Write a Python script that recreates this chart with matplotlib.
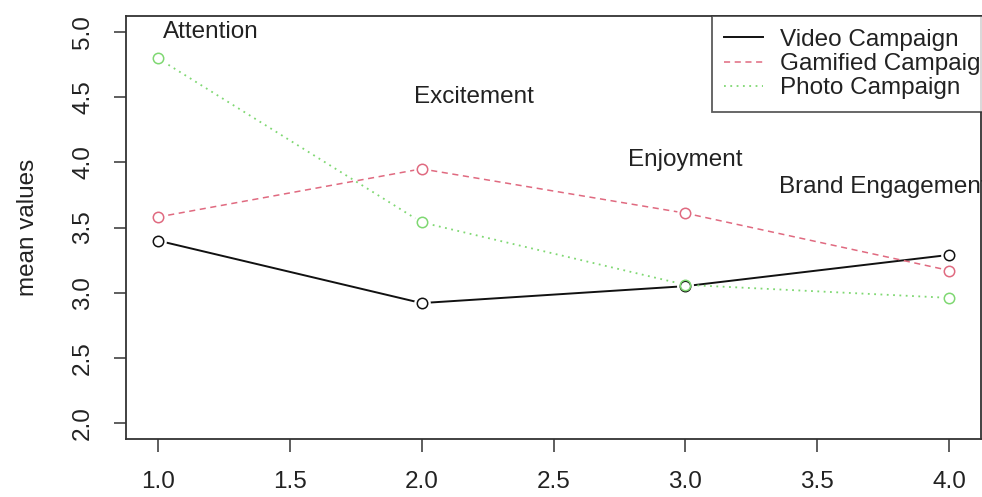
import matplotlib
matplotlib.use("Agg")
from matplotlib import pyplot as plt

# datos
dimensiones = [1, 2, 3, 4]
video = [3.40, 2.92, 3.05, 3.29]
gamificada = [3.58, 3.95, 3.61, 3.17]
foto = [4.80, 3.54, 3.06, 2.96]

etiquetas = ["Attention", "Excitement", "Enjoyment", "Brand Engagement"]
etiquetas_x = [1.2, 2.2, 3.0, 3.75]
etiquetas_y = [5.0, 4.5, 4.02, 3.81]

nombres = ["Video Campaign", "Gamified Campaign", "Photo Campaign"]

plt.rcParams['font.family'] = ['Liberation Sans', 'DejaVu Sans']
FS = 17.5

fig = plt.figure(figsize=(9.82, 4.97), dpi=100)
ax = fig.add_axes([0.1283, 0.1175, 0.8707, 0.8495])

series = [video, gamificada, foto]
colores = ["#111111", "#E06A80", "#7FD872"]
estilos = ["-", (0, (4, 3)), (0, (1, 2.5))]
anchos = [1.4, 1.1, 1.3]

for datos, color, estilo, ancho, nombre in zip(series, colores, estilos, anchos, nombres):
    ax.plot(dimensiones, datos, color=color, linestyle=estilo, linewidth=ancho, label=nombre, zorder=2)

# huecos alrededor de los puntos (type="b" de R)
for datos in series:
    ax.plot(dimensiones, datos, linestyle="none", marker="o", markersize=12,
            markerfacecolor="white", markeredgecolor="none", zorder=3)

for datos, color in zip(series, colores):
    ax.plot(dimensiones, datos, linestyle="none", marker="o", markersize=7.5,
            markerfacecolor="none", markeredgecolor=color, markeredgewidth=1.1, zorder=4)

for texto, x, y in zip(etiquetas, etiquetas_x, etiquetas_y):
    ax.text(x, y, texto, ha="center", va="center", fontsize=FS, color="#222222")

ax.set_xlim(0.88, 4.12)
ax.set_ylim(1.88, 5.12)
ax.set_xticks([1.0, 1.5, 2.0, 2.5, 3.0, 3.5, 4.0])
ax.set_yticks([2.0, 2.5, 3.0, 3.5, 4.0, 4.5, 5.0])
ax.set_xticklabels(["1.0", "1.5", "2.0", "2.5", "3.0", "3.5", "4.0"])
ax.set_yticklabels(["2.0", "2.5", "3.0", "3.5", "4.0", "4.5", "5.0"], rotation=90, va="center")
ax.tick_params(labelsize=FS, length=9, width=1.1, pad=14, colors="#333333", labelcolor="#222222")
ax.set_ylabel("mean values", fontsize=FS, color="#222222", labelpad=24)

for lado in ax.spines.values():
    lado.set_color("#333333")
    lado.set_linewidth(1.3)

leg = ax.legend(loc="upper left", bbox_to_anchor=(0.685, 1.0), borderaxespad=0,
                fancybox=False, frameon=True, edgecolor="#333333", fontsize=FS,
                labelspacing=0.1, handlelength=1.6, handletextpad=0.7, borderpad=0.5)
leg.get_frame().set_linewidth(1.3)
for t in leg.get_texts():
    t.set_color("#222222")

fig.savefig("out.png", dpi=100)
